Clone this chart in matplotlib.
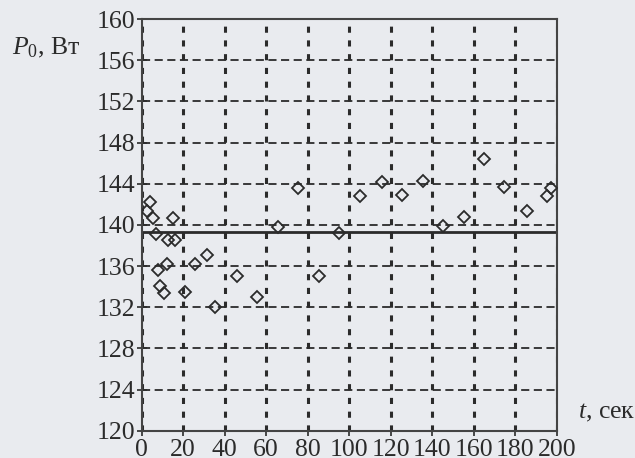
"""
Power P0 against time: scattered measurements with the mean level.
"""

from matplotlib import pyplot as plt

time_s = [2.4, 4.0, 5.6, 6.7, 8.0, 8.8, 11.0, 12.4, 12.9, 14.9, 16.0,
          20.9, 25.5, 31.3, 35.5, 45.8, 55.5, 65.6, 75.5, 85.4, 95.2,
          105.2, 115.7, 125.6, 135.4, 145.3, 155.3, 165.1, 174.7, 185.5,
          195.2, 197.2]
power_w = [141.3, 142.2, 140.7, 139.1, 135.6, 134.1, 133.4, 136.2, 138.5,
           140.7, 138.5, 133.5, 136.2, 137.1, 132.0, 135.0, 133.0, 139.8,
           143.6, 135.0, 139.2, 142.8, 144.2, 142.9, 144.3, 139.9, 140.8,
           146.4, 143.7, 141.3, 142.8, 143.6]
mean_power = 139.3

x_ticks = [0, 20, 40, 60, 80, 100, 120, 140, 160, 180, 200]
y_ticks = [120, 124, 128, 132, 136, 140, 144, 148, 152, 156, 160]

PAPER = "#e9ebef"
INK = "#2b2b2b"

plt.rcParams["font.family"] = ["Liberation Serif", "DejaVu Serif"]
plt.rcParams["mathtext.fontset"] = "custom"
plt.rcParams["mathtext.rm"] = "Liberation Serif"
plt.rcParams["mathtext.it"] = "Liberation Serif:italic"

fig = plt.figure(figsize=(6.35, 4.58), dpi=100, facecolor=PAPER)
ax = fig.add_axes([0.2231, 0.0596, 0.6536, 0.8989], facecolor=PAPER)

# grid: long dashes across, short heavy dashes up
ax.set_xticks(x_ticks)
ax.set_yticks(y_ticks)
ax.grid(axis="y", color=INK, linestyle=(0, (4.5, 2.5)), linewidth=1.3)
ax.grid(axis="x", color=INK, linestyle=(0, (2, 2.5)), linewidth=2.2)
ax.set_axisbelow(True)

ax.axhline(mean_power, color=INK, linewidth=2.0, zorder=2)
ax.plot(time_s, power_w, linestyle="none", marker="D", markersize=6.5,
        markerfacecolor="none", markeredgecolor=INK, markeredgewidth=1.3,
        zorder=3)

ax.set_xlim(0, 200)
ax.set_ylim(120, 160)
for spine in ax.spines.values():
    spine.set_color("#444444")
    spine.set_linewidth(1.5)
ax.tick_params(direction="inout", length=7, width=1.2, color=INK,
               labelsize=18.5, labelcolor=INK)
ax.tick_params(axis="x", pad=2.5)
ax.tick_params(axis="y", pad=1)

fig.text(12 / 635, 1 - 48 / 458, r"$P_0$, Вт", fontsize=18.5, color=INK,
         ha="left", va="center")
fig.text(578 / 635, 1 - 413 / 458, r"$t$, сек", fontsize=18.5, color=INK,
         ha="left", va="center")

fig.savefig("out.png", dpi=100, facecolor=PAPER)
